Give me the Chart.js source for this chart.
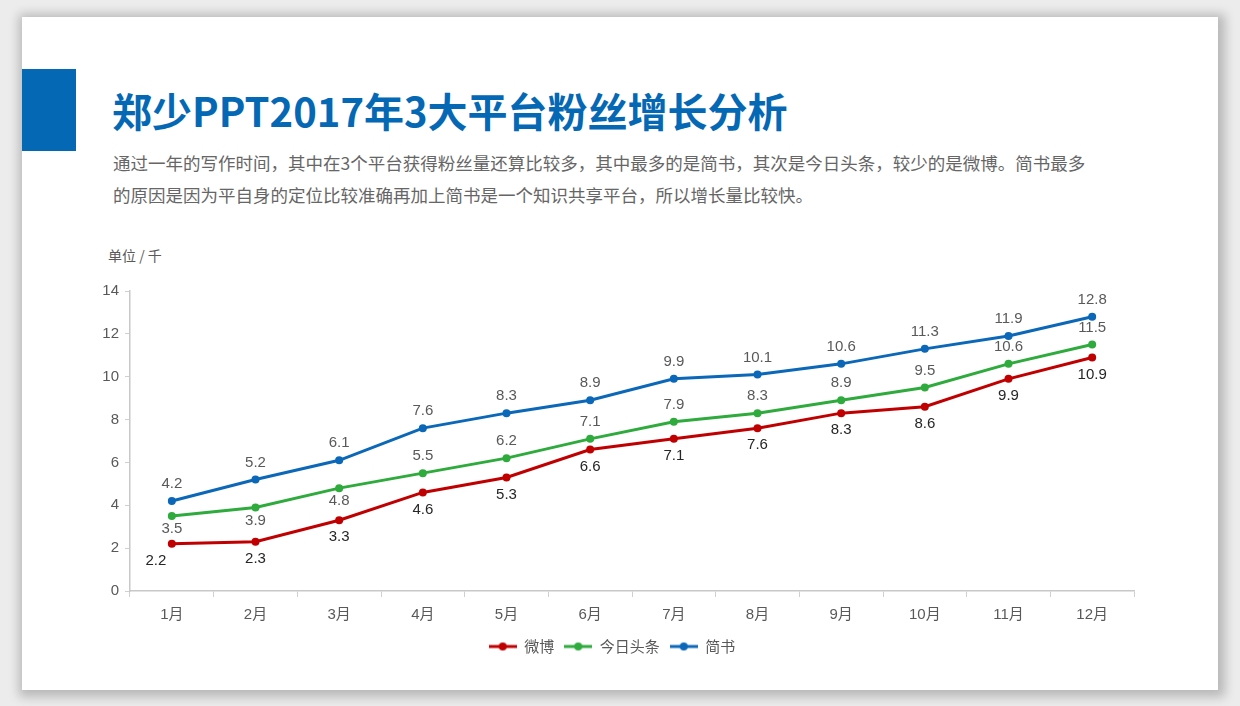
<!DOCTYPE html>
<html>
<head>
<meta charset="utf-8">
<script src="https://cdn.jsdelivr.net/npm/chart.js@4/dist/chart.umd.min.js"></script>
<style>
  html, body { margin: 0; padding: 0; }
  body {
    width: 1240px; height: 706px; position: relative; overflow: hidden;
    background: #ececec;
    font-family: "Noto Sans CJK SC", "Noto Sans", sans-serif;
  }
  .slide {
    position: absolute; left: 22px; top: 17px; width: 1196px; height: 673px;
    background: #fff;
    box-shadow: 2px 2px 10px 5px rgba(0,0,0,0.22);
  }
  .bar {
    position: absolute; left: 22px; top: 69px; width: 54px; height: 82px;
    background: #0468b4;
  }
  .title {
    position: absolute; left: 112px; top: 84px; margin: 0;
    font-size: 40px; line-height: 52px; font-weight: 700; color: #0468b4;
    white-space: nowrap;
  }
  .desc {
    position: absolute; left: 113px; top: 147px; margin: 0;
    font-size: 17.5px; line-height: 32px; color: #666;
    white-space: nowrap;
  }
  .unit {
    position: absolute; left: 108px; top: 245px;
    font-size: 14px; line-height: 20px; color: #595959;
  }
  .chart-box { position: absolute; left: 90px; top: 262px; width: 1080px; height: 402px; }
</style>
</head>
<body>
<div class="slide"></div>
<div class="bar"></div>
<h1 class="title">郑少PPT2017年3大平台粉丝增长分析</h1>
<p class="desc">通过一年的写作时间，其中在3个平台获得粉丝量还算比较多，其中最多的是简书，其次是今日头条，较少的是微博。简书最多<br>的原因是因为平自身的定位比较准确再加上简书是一个知识共享平台，所以增长量比较快。</p>
<div class="unit">单位 / 千</div>
<div class="chart-box"><canvas id="growthChart"></canvas></div>

<script>
// ---- data ----
const months = ['1月', '2月', '3月', '4月', '5月', '6月', '7月', '8月', '9月', '10月', '11月', '12月'];
const weibo    = [2.2, 2.3, 3.3, 4.6, 5.3, 6.6, 7.1, 7.6, 8.3, 8.6, 9.9, 10.9];
const toutiao  = [3.5, 3.9, 4.8, 5.5, 6.2, 7.1, 7.9, 8.3, 8.9, 9.5, 10.6, 11.5];
const jianshu  = [4.2, 5.2, 6.1, 7.6, 8.3, 8.9, 9.9, 10.1, 10.6, 11.3, 11.9, 12.8];
const yTicks   = [0, 2, 4, 6, 8, 10, 12, 14];

const RED = '#c00000';
const GREEN = '#2eab3c';
const BLUE = '#0b67b8';

// legend marker: short line with a dot in the middle
function legendMarker(color) {
  const c = document.createElement('canvas');
  c.width = 28; c.height = 10;
  const ctx = c.getContext('2d');
  ctx.strokeStyle = color;
  ctx.lineWidth = 3;
  ctx.beginPath();
  ctx.moveTo(0, 5);
  ctx.lineTo(28, 5);
  ctx.stroke();
  ctx.fillStyle = color;
  ctx.beginPath();
  ctx.arc(14, 5, 4, 0, Math.PI * 2);
  ctx.fill();
  return c;
}

// value labels drawn next to each point, using the points the chart placed
const valueLabels = {
  id: 'valueLabels',
  afterDatasetsDraw(chart) {
    const ctx = chart.ctx;
    ctx.save();
    ctx.font = '15px "Liberation Sans", Arial, sans-serif';
    ctx.textAlign = 'center';
    ctx.textBaseline = 'middle';
    chart.data.datasets.forEach((ds, i) => {
      const meta = chart.getDatasetMeta(i);
      if (meta.hidden) return;
      meta.data.forEach((pt, j) => {
        const below = ds.labelBelow(j);
        // first red label sits a little to the left in the original
        const dx = (i === 0 && j === 0) ? -16 : 0;
        const dy = below ? (i === 1 ? 13 : 17) : -17;
        ctx.fillStyle = ds.labelColor;
        ctx.fillText(String(ds.data[j]), pt.x + dx, pt.y + dy);
      });
    });
    ctx.restore();
  }
};

Chart.defaults.font.family = '"Liberation Sans", Arial, "Noto Sans CJK SC", sans-serif';
Chart.defaults.font.size = 15;
Chart.defaults.color = '#595959';

function lineSet(label, data, color, labelColor, labelBelow) {
  return {
    label: label,
    data: data,
    borderColor: color,
    backgroundColor: color,
    borderWidth: 3,
    pointRadius: 4,
    pointHoverRadius: 4,
    pointBorderWidth: 0,
    pointStyle: 'circle',
    tension: 0,
    labelColor: labelColor,
    labelBelow: labelBelow
  };
}

new Chart(document.getElementById('growthChart'), {
  type: 'line',
  data: {
    labels: months,
    datasets: [
      lineSet('微博', weibo, RED, '#262626', () => true),
      lineSet('今日头条', toutiao, GREEN, '#595959', j => j < 3),
      lineSet('简书', jianshu, BLUE, '#595959', () => false)
    ]
  },
  options: {
    responsive: true,
    maintainAspectRatio: false,
    animation: false,
    layout: { padding: { top: 29, right: 36, bottom: 0, left: 0 } },
    scales: {
      x: {
        offset: true,
        grid: { display: true, drawOnChartArea: false, drawTicks: true, tickLength: 6, color: '#d0d0d0', offset: true },
        border: { color: '#c8c8c8', width: 1.5 },
        ticks: { color: '#595959', padding: 9, maxRotation: 0 },
        afterFit(scale) { scale.height = 38; }
      },
      y: {
        min: 0,
        max: 14,
        afterBuildTicks(scale) { scale.ticks = yTicks.map(v => ({ value: v })); },
        grid: { display: true, drawOnChartArea: false, drawTicks: true, tickLength: 5, color: '#d0d0d0' },
        border: { color: '#c8c8c8', width: 1.5 },
        ticks: { color: '#595959', padding: 6 },
        afterFit(scale) { scale.width = 40; }
      }
    },
    plugins: {
      legend: {
        position: 'bottom',
        labels: {
          usePointStyle: true,
          pointStyleWidth: 28,
          color: '#595959',
          padding: 10,
          font: { size: 15, family: '"Noto Sans CJK SC", sans-serif' },
          generateLabels(chart) {
            return chart.data.datasets.map((ds, i) => ({
              text: ds.label,
              pointStyle: legendMarker(ds.borderColor),
              fillStyle: ds.borderColor,
              strokeStyle: ds.borderColor,
              lineWidth: 0,
              fontColor: '#595959',
              hidden: !chart.isDatasetVisible(i),
              datasetIndex: i
            }));
          }
        }
      },
      tooltip: { enabled: false }
    }
  },
  plugins: [valueLabels]
});
</script>
</body>
</html>
